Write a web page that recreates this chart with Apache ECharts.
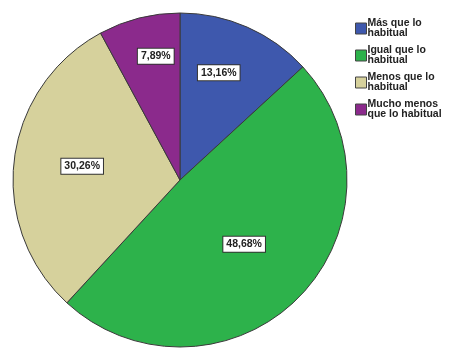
<!DOCTYPE html>
<html>
<head>
<meta charset="utf-8">
<script src="https://cdn.jsdelivr.net/npm/echarts@6/dist/echarts.min.js"></script>
<style>
  html, body { margin: 0; padding: 0; background: #ffffff; }
  #chart { width: 453px; height: 352px; }
</style>
</head>
<body>
<div id="chart"></div>
<script>
// Response categories and their shares (%)
const categories = [
  'Más que lo habitual',
  'Igual que lo habitual',
  'Menos que lo habitual',
  'Mucho menos que lo habitual'
];
const values = [13.16, 48.68, 30.26, 7.89];
const legendLabels = [
  'Más que lo\nhabitual',
  'Igual que lo\nhabitual',
  'Menos que lo\nhabitual',
  'Mucho menos\nque lo habitual'
];

const colors = ['#3e58ad', '#2db24b', '#d6d19c', '#8b2a8c'];
// nudges applied to each slice label relative to the mid-radius spot
const labelNudge = [[4, -28], [3, 3], [-12, -3], [-3, -40]];

const chart = echarts.init(document.getElementById('chart'), null, { renderer: 'canvas' });

const fmtPct = v => v.toFixed(2).replace('.', ',') + '%';

chart.setOption({
  animation: false,
  backgroundColor: '#ffffff',
  color: colors,
  legend: {
    orient: 'vertical',
    left: 350,
    top: 13,
    itemWidth: 11,
    itemHeight: 11,
    itemGap: 6,
    icon: 'rect',
    itemStyle: { borderColor: '#444', borderWidth: 1 },
    formatter: name => legendLabels[categories.indexOf(name)],
    textStyle: {
      fontFamily: 'Liberation Sans, Arial, sans-serif',
      fontSize: 10.5,
      fontWeight: 'bold',
      lineHeight: 10,
      color: '#222',
      padding: [0, 0, 0, -4]
    },
    data: categories
  },
  series: [{
    type: 'pie',
    center: [180, 180],
    radius: 167,
    startAngle: 90,
    clockwise: true,
    silent: true,
    itemStyle: { borderColor: '#3a3a3a', borderWidth: 1 },
    label: {
      position: 'inside',
      formatter: p => fmtPct(values[p.dataIndex]),
      fontFamily: 'Liberation Sans, Arial, sans-serif',
      fontSize: 10.5,
      fontWeight: 'bold',
      color: '#222',
      backgroundColor: '#ffffff',
      borderColor: '#333',
      borderWidth: 1,
      padding: [2, 3, 2, 3]
    },
    labelLine: { show: false },
    data: categories.map((name, i) => ({
      name: name,
      value: values[i],
      label: { offset: labelNudge[i] }
    }))
  }]
});
</script>
</body>
</html>
